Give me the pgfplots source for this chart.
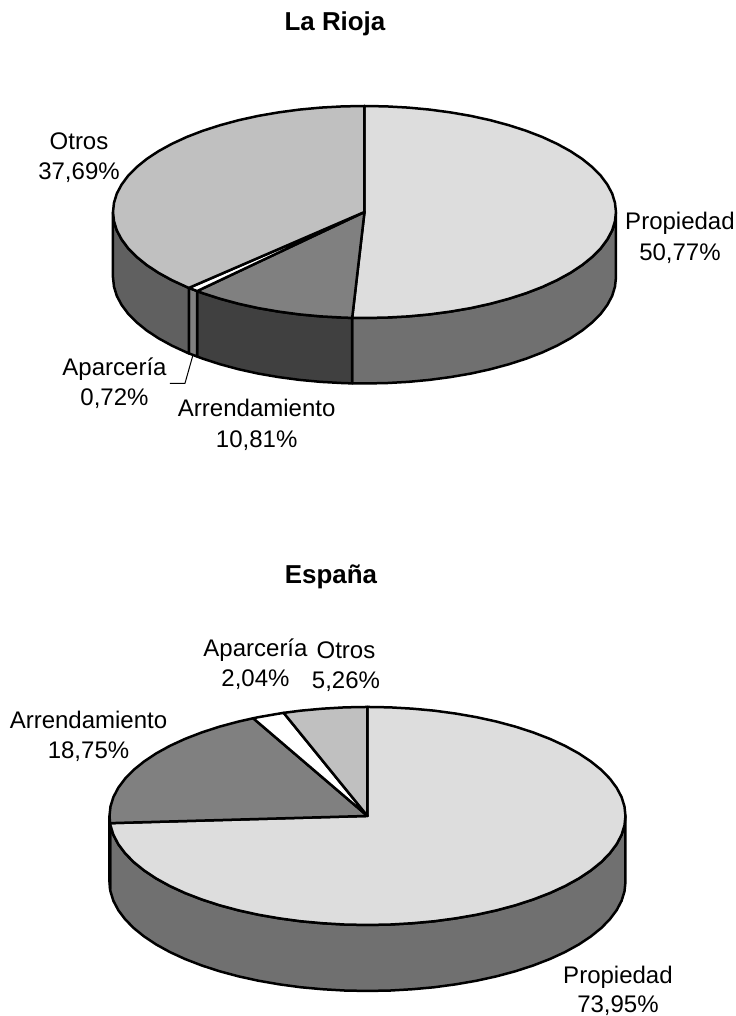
\documentclass[border=0pt]{standalone}
\usepackage{fontspec}
\setmainfont{Liberation Sans}
\usepackage{pgfplots}
\pgfplotsset{compat=1.18}
\definecolor{propTop}{HTML}{DDDDDD}
\definecolor{propSide}{HTML}{707070}
\definecolor{arrTop}{HTML}{808080}
\definecolor{arrSide}{HTML}{404040}
\definecolor{apaTop}{HTML}{FFFFFF}
\definecolor{apaSide}{HTML}{808080}
\definecolor{otrTop}{HTML}{C0C0C0}
\definecolor{otrSide}{HTML}{606060}
\newcommand{\lab}[3]{\node[anchor=base,inner sep=0pt,font=\fontsize{24.1}{29}\selectfont] at (axis cs:#1,#2) {#3};}
\newcommand{\ttl}[3]{\node[anchor=base,inner sep=0pt,font=\fontsize{26}{31}\selectfont\bfseries] at (axis cs:#1,#2) {#3};}
\begin{document}
\begin{tikzpicture}
\begin{axis}[
  scale only axis, width=736bp, height=1016bp,
  xmin=0, xmax=736, ymin=0, ymax=1016, y dir=reverse,
  hide axis, clip=false,
  every axis plot/.append style={draw=black, line width=2.5bp, line join=round, no markers}
]
\addplot[draw=none, forget plot] coordinates {(0,0) (736,1016)};

% La Rioja: Propiedad 50.77, Arrendamiento 10.81, Aparceria 0.72, Otros 37.69
% side walls
\addplot[fill=propSide] coordinates {
 (616,212) (615,221.2) (612.2,230.4) (607.4,239.4) (600.8,248.3) (592.4,256.8) (582.3,265) (570.5,272.8) (557.2,280.1) (542.3,287) (526.2,293.2) (508.8,298.8) (490.3,303.8) (470.8,308.1) (450.5,311.6) (429.6,314.4) (408.2,316.4) (386.4,317.6) (364.5,318) (352.2,317.9)
 (352.2,383.4) (364.5,383.5) (386.4,383.1) (408.2,381.9) (429.6,379.9) (450.5,377.1) (470.8,373.6) (490.3,369.3) (508.8,364.3) (526.2,358.7) (542.3,352.5) (557.2,345.6) (570.5,338.3) (582.3,330.5) (592.4,322.3) (600.8,313.8) (607.4,304.9) (612.2,295.9) (615,286.7) (616,277.5)
} -- cycle;
\addplot[fill=arrSide] coordinates {
 (352.2,317.9) (342.6,317.6) (320.8,316.4) (299.4,314.4) (278.5,311.6) (258.2,308.1) (238.7,303.8) (220.2,298.8) (202.8,293.2) (197.2,291.1)
 (197.2,356.6) (202.8,358.7) (220.2,364.3) (238.7,369.3) (258.2,373.6) (278.5,377.1) (299.4,379.9) (320.8,381.9) (342.6,383.1) (352.2,383.4)
} -- cycle;
\addplot[fill=apaSide] coordinates {(197.2,291.1) (188.9,287.9) (188.9,353.4) (197.2,356.6)} -- cycle;
\addplot[fill=otrSide] coordinates {
 (188.9,287.9) (186.7,287) (171.8,280.1) (158.5,272.8) (146.7,265) (136.6,256.8) (128.2,248.3) (121.6,239.4) (116.8,230.4) (114,221.2) (113,212)
 (113,277.5) (114,286.7) (116.8,295.9) (121.6,304.9) (128.2,313.8) (136.6,322.3) (146.7,330.5) (158.5,338.3) (171.8,345.6) (186.7,352.5) (188.9,353.4)
} -- cycle;
% top wedges
\addplot[fill=propTop] coordinates {
 (364.5,212) (364.5,106) (386.4,106.4) (408.2,107.6) (429.6,109.6) (450.5,112.4) (470.8,115.9) (490.3,120.2) (508.8,125.2) (526.2,130.8) (542.3,137) (557.2,143.9) (570.5,151.2) (582.3,159) (592.4,167.2) (600.8,175.7) (607.4,184.6) (612.2,193.6) (615,202.8) (616,212)
 (615,221.2) (612.2,230.4) (607.4,239.4) (600.8,248.3) (592.4,256.8) (582.3,265) (570.5,272.8) (557.2,280.1) (542.3,287) (526.2,293.2) (508.8,298.8) (490.3,303.8) (470.8,308.1) (450.5,311.6) (429.6,314.4) (408.2,316.4) (386.4,317.6) (364.5,318) (352.2,317.9)
} -- cycle;
\addplot[fill=arrTop] coordinates {
 (364.5,212) (352.2,317.9) (342.6,317.6) (320.8,316.4) (299.4,314.4) (278.5,311.6) (258.2,308.1) (238.7,303.8) (220.2,298.8) (202.8,293.2) (197.2,291.1)
} -- cycle;
\addplot[fill=apaTop] coordinates {(364.5,212) (197.2,291.1) (188.9,287.9)} -- cycle;
\addplot[fill=otrTop] coordinates {
 (364.5,212) (188.9,287.9) (186.7,287) (171.8,280.1) (158.5,272.8) (146.7,265) (136.6,256.8) (128.2,248.3) (121.6,239.4) (116.8,230.4) (114,221.2) (113,212)
 (114,202.8) (116.8,193.6) (121.6,184.6) (128.2,175.7) (136.6,167.2) (146.7,159) (158.5,151.2) (171.8,143.9) (186.7,137) (202.8,130.8) (220.2,125.2) (238.7,120.2) (258.2,115.9) (278.5,112.4) (299.4,109.6) (320.8,107.6) (342.6,106.4) (364.5,106)
} -- cycle;
% leader line for Aparceria
\addplot[line width=1bp] coordinates {(170,383.3) (185,383.3) (192.7,356)};

% Espana: Propiedad 73.95, Arrendamiento 18.75, Aparceria 2.04, Otros 5.26
\addplot[fill=propSide] coordinates {
 (625.5,816) (624.5,825.5) (621.6,834.9) (616.7,844.2) (609.9,853.3) (601.3,862.1) (590.9,870.5) (578.9,878.5) (565.1,886.1) (549.9,893.1) (533.3,899.5) (515.5,905.3) (496.5,910.4) (476.5,914.8) (455.7,918.4) (434.3,921.3) (412.3,923.3) (390,924.6) (367.5,925) (345,924.6) (322.7,923.3) (300.7,921.3) (279.3,918.4) (258.5,914.8) (238.5,910.4) (219.5,905.3) (201.7,899.5) (185.1,893.1) (169.9,886.1) (156.1,878.5) (144.1,870.5) (133.7,862.1) (125.1,853.3) (118.3,844.2) (113.4,834.9) (110.5,825.5) (110.1,823.2)
 (110.1,889.2) (110.5,891.5) (113.4,900.9) (118.3,910.2) (125.1,919.3) (133.7,928.1) (144.1,936.5) (156.1,944.5) (169.9,952.1) (185.1,959.1) (201.7,965.5) (219.5,971.3) (238.5,976.4) (258.5,980.8) (279.3,984.4) (300.7,987.3) (322.7,989.3) (345,990.6) (367.5,991) (390,990.6) (412.3,989.3) (434.3,987.3) (455.7,984.4) (476.5,980.8) (496.5,976.4) (515.5,971.3) (533.3,965.5) (549.9,959.1) (565.1,952.1) (578.9,944.5) (590.9,936.5) (601.3,928.1) (609.9,919.3) (616.7,910.2) (621.6,900.9) (624.5,891.5) (625.5,882)
} -- cycle;
\addplot[fill=arrSide] coordinates {(110.1,823.2) (109.5,816) (109.5,882) (110.1,889.2)} -- cycle;
\addplot[fill=propTop] coordinates {
 (367.5,816) (367.5,707) (390,707.4) (412.3,708.7) (434.3,710.7) (455.7,713.6) (476.5,717.2) (496.5,721.6) (515.5,726.7) (533.3,732.5) (549.9,738.9) (565.1,745.9) (578.9,753.5) (590.9,761.5) (601.3,769.9) (609.9,778.7) (616.7,787.8) (621.6,797.1) (624.5,806.5) (625.5,816)
 (624.5,825.5) (621.6,834.9) (616.7,844.2) (609.9,853.3) (601.3,862.1) (590.9,870.5) (578.9,878.5) (565.1,886.1) (549.9,893.1) (533.3,899.5) (515.5,905.3) (496.5,910.4) (476.5,914.8) (455.7,918.4) (434.3,921.3) (412.3,923.3) (390,924.6) (367.5,925) (345,924.6) (322.7,923.3) (300.7,921.3) (279.3,918.4) (258.5,914.8) (238.5,910.4) (219.5,905.3) (201.7,899.5) (185.1,893.1) (169.9,886.1) (156.1,878.5) (144.1,870.5) (133.7,862.1) (125.1,853.3) (118.3,844.2) (113.4,834.9) (110.5,825.5) (110.1,823.2)
} -- cycle;
\addplot[fill=arrTop] coordinates {
 (367.5,816) (110.1,823.2) (109.5,816) (110.5,806.5) (113.4,797.1) (118.3,787.8) (125.1,778.7) (133.7,769.9) (144.1,761.5) (156.1,753.5) (169.9,745.9) (185.1,738.9) (201.7,732.5) (219.5,726.7) (238.5,721.6) (253.2,718.3)
} -- cycle;
\addplot[fill=apaTop] coordinates {(367.5,816) (253.2,718.3) (258.5,717.2) (279.3,713.6) (283.7,712.9)} -- cycle;
\addplot[fill=otrTop] coordinates {(367.5,816) (283.7,712.9) (300.7,710.7) (322.7,708.7) (345,707.4) (367.5,707)} -- cycle;

% texts
\ttl{335}{31}{La Rioja}
\lab{79}{149.5}{Otros}
\lab{79}{179.5}{37,69\%}
\lab{680}{230}{Propiedad}
\lab{680}{261}{50,77\%}
\lab{114.5}{376}{Aparcería}
\lab{114.5}{406}{0,72\%}
\lab{256.7}{417}{Arrendamiento}
\lab{256.7}{448}{10,81\%}
\ttl{331}{583.5}{España}
\lab{255.5}{656.5}{Aparcería}
\lab{255.5}{686.5}{2,04\%}
\lab{346}{658.5}{Otros}
\lab{346}{689}{5,26\%}
\lab{88.5}{728.5}{Arrendamiento}
\lab{88.5}{758.5}{18,75\%}
\lab{618}{984}{Propiedad}
\lab{618}{1013}{73,95\%}
\end{axis}
\end{tikzpicture}
\end{document}
